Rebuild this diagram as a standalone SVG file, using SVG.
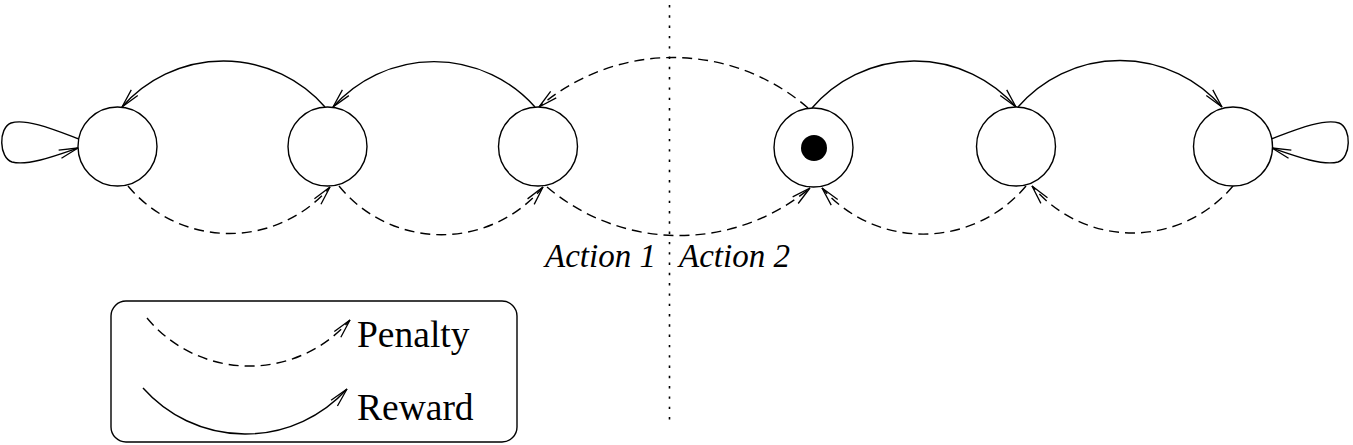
<svg xmlns="http://www.w3.org/2000/svg" width="1353" height="445" viewBox="0 0 1353 445">
<style>
.st{fill:none;stroke:#000;stroke-width:1.4}
.node{fill:#fff;stroke:#000;stroke-width:1.4}
.dash{stroke-dasharray:10 6}
.lbl{font-family:"Liberation Serif","Times New Roman",serif;fill:#000}
.it{font-style:italic;font-size:33px}
.lg{font-size:37.5px}
</style>
<defs>
<marker id="arr" markerUnits="userSpaceOnUse" viewBox="-22 -7 24 14" refX="0" refY="0" markerWidth="24" markerHeight="14" orient="auto" overflow="visible">
<path d="M-19,-4.3 L0,0 L-19,4.3" fill="none" stroke="#000" stroke-width="1.3" stroke-dasharray="none"/>
</marker>
</defs>
<rect width="1353" height="445" fill="#fff"/>

<line x1="669.5" y1="5" x2="669.5" y2="420" stroke="#000" stroke-width="1.6" stroke-dasharray="2.4 7.9"/>

<g id="connectors">
<path class="st" d="M325,107 A135,135 0 0 0 122,107" marker-end="url(#arr)"/>
<path class="st" d="M535,107 A135,135 0 0 0 333,107" marker-end="url(#arr)"/>
<path class="st dash" d="M808,108 A206,206 0 0 0 539,107" marker-end="url(#arr)"/>
<path class="st" d="M812,108 A135,135 0 0 1 1016,107" marker-end="url(#arr)"/>
<path class="st" d="M1018,107 A135,135 0 0 1 1222,107" marker-end="url(#arr)"/>
<path class="st dash" d="M128,186 A132,132 0 0 0 330,187" marker-end="url(#arr)"/>
<path class="st dash" d="M339,186 A132,132 0 0 0 543,187" marker-end="url(#arr)"/>
<path class="st dash" d="M547,187 A204,204 0 0 0 810,188" marker-end="url(#arr)"/>
<path class="st dash" d="M1026,186 A134,134 0 0 1 822,188" marker-end="url(#arr)"/>
<path class="st dash" d="M1233,186 A131,131 0 0 1 1032,186" marker-end="url(#arr)"/>
<path class="st" d="M79,139 C55,130 26,118 11,123 C-2,128 -1,158 12,162 C28,166 55,156 78,148" marker-end="url(#arr)"/>
<path class="st" d="M1271,139 C1295,130 1324,118 1339,123 C1352,128 1351,158 1338,162 C1322,166 1295,156 1272,148" marker-end="url(#arr)"/>
</g>

<g id="s1"><circle class="node" cx="117.5" cy="146.5" r="39.5"/></g>
<g id="s2"><circle class="node" cx="327.5" cy="146.5" r="39.5"/></g>
<g id="s3"><circle class="node" cx="538" cy="146.5" r="39.5"/></g>
<g id="s4"><circle class="node" cx="813.5" cy="147.5" r="39.5"/><circle cx="814" cy="148" r="13" fill="#000"/></g>
<g id="s5"><circle class="node" cx="1016" cy="146.5" r="39.5"/></g>
<g id="s6"><circle class="node" cx="1233" cy="146.5" r="39.5"/></g>

<g id="actions">
<text class="lbl it" x="545" y="267">Action 1</text>
<text class="lbl it" x="679" y="267">Action 2</text>
</g>

<g id="legend">
<rect class="st" x="111" y="301" width="406" height="141" rx="15" ry="15"/>
<path class="st dash" d="M147,318 A133,133 0 0 0 350,320" marker-end="url(#arr)"/>
<path class="st" d="M143,388 A137,137 0 0 0 347,389" marker-end="url(#arr)"/>
<text class="lbl lg" x="357" y="347">Penalty</text>
<text class="lbl lg" x="357" y="420">Reward</text>
</g>
</svg>
